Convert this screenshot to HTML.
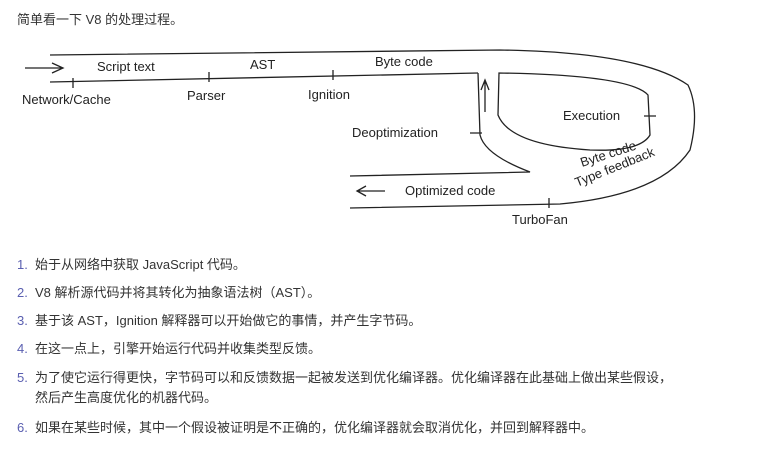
<!DOCTYPE html>
<html><head><meta charset="utf-8"><style>
body{margin:0;width:766px;height:466px;background:#fff;font-family:"Liberation Sans","Noto Sans CJK SC",sans-serif;color:#333;position:relative;overflow:hidden}
.t{position:absolute;left:17px;top:9px;font-size:13px}
.li{position:absolute;left:17px;font-size:13px;line-height:20px}
.li b{font-weight:normal;color:#5a5fb0;display:inline-block;width:18px}
.li span{position:absolute;left:18px;white-space:nowrap}
svg text{font-family:"Liberation Sans",sans-serif;font-size:13px;fill:#222;stroke:none}
</style></head><body>
<div class="t">简单看一下 V8 的处理过程。</div>
<svg width="766" height="240" style="position:absolute;left:0;top:0" fill="none" stroke="#222" stroke-width="1.3">
<path d="M50,55 L500,50 Q640,52 688,85 Q700,110 690,150 Q660,195 560,204 L350,208"/>
<path d="M50,82 L478,73"/>
<path d="M350,176 L530,172 Q485,155 480,135 L478,73"/>
<path d="M499,73 Q630,75 648,95 L650,135 Q640,152 590,150 Q510,145 498,115 Z" />
<path d="M485,112 L485,82 M481,90 L485,80 L489,90"/>
<path d="M25,68 L62,68 M52,63 L63,68 L52,73"/>
<path d="M385,191 L358,191 M366,186 L357,191 L366,196"/>
<path d="M73,78 L73,88 M209,72 L209,82 M333,70 L333,80 M644,116 L656,116 M470,133 L482,133 M549,198 L549,208"/>
<text x="97" y="71">Script text</text>
<text x="250" y="69">AST</text>
<text x="375" y="66">Byte code</text>
<text x="22" y="104">Network/Cache</text>
<text x="187" y="100">Parser</text>
<text x="308" y="99">Ignition</text>
<text x="352" y="137">Deoptimization</text>
<text x="563" y="120">Execution</text>
<text x="405" y="195">Optimized code</text>
<text x="512" y="224">TurboFan</text>
<text x="582" y="167" transform="rotate(-18 582 167)">Byte code</text>
<text x="577" y="187" transform="rotate(-22 577 187)">Type feedback</text>
</svg>
<div class="li" style="top:255px"><b>1.</b><span>始于从网络中获取 JavaScript 代码。</span></div>
<div class="li" style="top:283px"><b>2.</b><span>V8 解析源代码并将其转化为抽象语法树（AST）。</span></div>
<div class="li" style="top:311px"><b>3.</b><span>基于该 AST，Ignition 解释器可以开始做它的事情，并产生字节码。</span></div>
<div class="li" style="top:339px"><b>4.</b><span>在这一点上，引擎开始运行代码并收集类型反馈。</span></div>
<div class="li" style="top:368px"><b>5.</b><span>为了使它运行得更快，字节码可以和反馈数据一起被发送到优化编译器。优化编译器在此基础上做出某些假设，<br>然后产生高度优化的机器代码。</span></div>
<div class="li" style="top:418px"><b>6.</b><span>如果在某些时候，其中一个假设被证明是不正确的，优化编译器就会取消优化，并回到解释器中。</span></div>
</body></html>
